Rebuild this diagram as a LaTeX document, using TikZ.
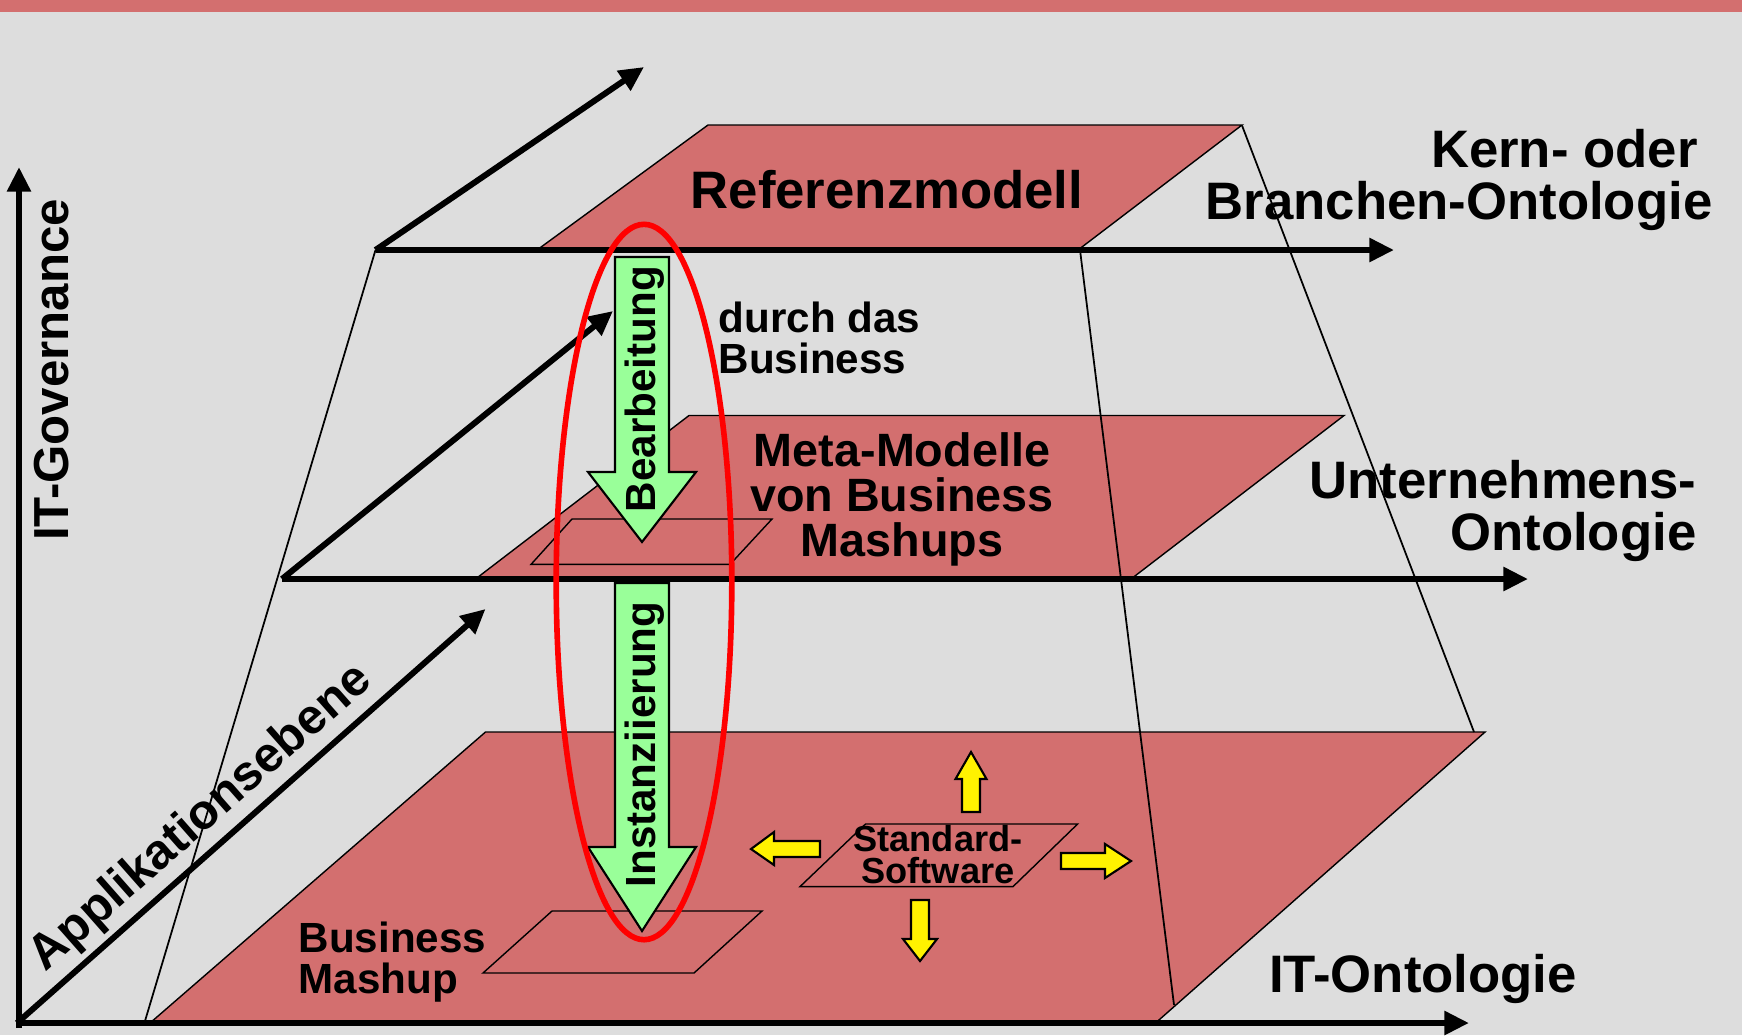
\documentclass[tikz,border=0pt]{standalone}
\usepackage{fontspec}
\setmainfont{Liberation Sans}
\usetikzlibrary{arrows.meta}

\definecolor{planered}{RGB}{211,111,111}
\definecolor{bggray}{RGB}{221,221,221}
\definecolor{arrowgreen}{RGB}{153,255,153}

\begin{document}
\begin{tikzpicture}[
  axis/.style = {line width=1.7pt, -{Triangle[length=7pt,width=6.5pt]}},
  plane/.style = {fill=planered, draw=black, line width=0.4pt},
  edgeline/.style = {draw=black, line width=0.5pt},
  bigarrow/.style = {fill=arrowgreen, draw=black, line width=0.6pt},
  smallarrow/.style = {fill=yellow, draw=black, line width=0.6pt},
  biglabel/.style = {inner sep=0, font=\bfseries\fontsize{15}{14.6}\selectfont},
  midlabel/.style = {inner sep=0, font=\bfseries\fontsize{13.3}{12.8}\selectfont},
  smalllabel/.style = {inner sep=0, font=\bfseries\fontsize{12}{11.6}\selectfont}]

\useasboundingbox (0,0) rectangle (17.42,10.35);
\fill[bggray] (0,0) rectangle (17.42,10.35);
\fill[planered] (0,10.23) rectangle (17.42,10.35);

% the three levels
\draw[plane] (5.37,7.85) -- (10.78,7.85) -- (12.42,9.10) -- (7.08,9.10) -- cycle;
\draw[plane] (4.755,4.56) -- (11.31,4.56) -- (13.44,6.195) -- (6.89,6.195) -- cycle;
\draw[plane] (1.50,0.12) -- (11.555,0.12) -- (14.85,3.03) -- (4.855,3.03) -- cycle;

\draw[plane] (5.31,4.706) -- (7.30,4.706) -- (7.72,5.16) -- (5.72,5.16) -- cycle;
\draw[plane] (4.83,0.62) -- (6.94,0.62) -- (7.62,1.24) -- (5.52,1.24) -- cycle;
\draw[plane] (8.00,1.484) -- (10.13,1.484) -- (10.776,2.11) -- (8.655,2.11) -- cycle;

\coordinate (O) at (0.17,0.12);
\coordinate (topO) at (3.755,7.85);
\coordinate (midO) at (2.82,4.56);

% side lines of the pyramid
\draw[edgeline] (topO) -- (1.444,0.12);
\draw[edgeline] (12.42,9.095) -- (14.74,3.03);
\draw[edgeline] (10.80,7.85) -- (11.74,0.30);

% axes
\draw[axis] (0.19,0.07) -- (0.19,8.68);
\draw[axis] (0.155,0.12) -- (14.69,0.12);
\draw[axis] (O) -- (4.855,4.26);
\draw[axis] (midO) -- (15.28,4.56);
\draw[axis] (midO) -- (6.13,7.24);
\draw[axis] (topO) -- (13.94,7.85);
\draw[axis] (topO) -- (6.44,9.68);

% Bearbeitung / Instanziierung
\draw[bigarrow] (6.15,7.78) -- (6.69,7.78) -- (6.69,5.63) -- (6.96,5.63) -- (6.42,4.93)
  -- (5.88,5.63) -- (6.15,5.63) -- cycle;
\draw[bigarrow] (6.15,4.52) -- (6.69,4.52) -- (6.69,1.88) -- (6.96,1.88) -- (6.42,1.04)
  -- (5.88,1.88) -- (6.15,1.88) -- cycle;

% Standard-Software spreads out
\draw[smallarrow] (9.62,2.23) -- (9.80,2.23) -- (9.80,2.56) -- (9.865,2.56) -- (9.71,2.83)
  -- (9.555,2.56) -- (9.62,2.56) -- cycle;
\draw[smallarrow] (9.11,1.35) -- (9.29,1.35) -- (9.29,0.96) -- (9.37,0.96) -- (9.20,0.74)
  -- (9.03,0.96) -- (9.11,0.96) -- cycle;
\draw[smallarrow] (8.20,1.78) -- (8.20,1.94) -- (7.74,1.94) -- (7.74,2.03) -- (7.51,1.86)
  -- (7.74,1.70) -- (7.74,1.78) -- cycle;
\draw[smallarrow] (10.61,1.66) -- (10.61,1.82) -- (11.05,1.82) -- (11.05,1.91) -- (11.31,1.74)
  -- (11.05,1.57) -- (11.05,1.66) -- cycle;

\draw[red, line width=1.6pt] (6.44,4.53) ellipse (0.878 and 3.577);

% labels (base = last line)
\node[biglabel, anchor=base] (ref) at (8.87,8.27) {Referenzmodell};
\node[biglabel, anchor=base east, align=right] (kern) at (17.13,8.16) {Kern- oder\hspace*{0.28em}\\Branchen-Ontologie};
\node[biglabel, anchor=base east, align=right] (unter) at (16.97,4.85) {Unternehmens-\\Ontologie};
\node[biglabel, anchor=base] (itont) at (14.23,0.43) {IT-Ontologie};
\node[smalllabel, anchor=base west, align=left] (durch) at (7.18,6.62) {durch das\\Business};
\node[midlabel, anchor=base, align=center] (meta) at (9.02,4.79) {Meta-Modelle\\von Business\\Mashups};
\node[smalllabel, anchor=base west, align=left] (bm) at (2.98,0.42) {Business\\Mashup};
\node[inner sep=0, anchor=base, align=center, font=\bfseries\fontsize{10.3}{9.1}\selectfont] (std) at (9.38,1.52) {Standard-\\Software};
\node[inner sep=0, anchor=base, rotate=90, font=\bfseries\fontsize{14}{14}\selectfont] (itgov) at (0.68,6.65) {IT-Governance};
\node[inner sep=0, anchor=base, rotate=41.4, font=\bfseries\fontsize{14}{14}\selectfont] (appl) at (2.10,2.07) {Applikationsebene};
\node[smalllabel, rotate=90] (bearb) at (6.45,6.46) {Bearbeitung};
\node[smalllabel, rotate=90] (inst) at (6.45,2.905) {Instanziierung};
\end{tikzpicture}
\end{document}
